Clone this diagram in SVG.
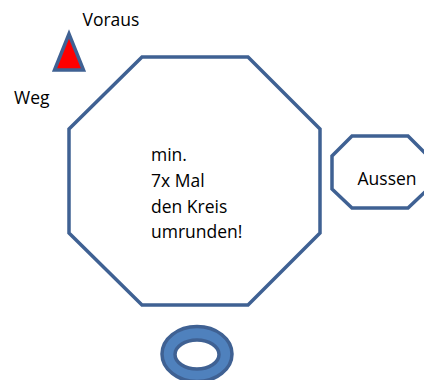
<svg xmlns="http://www.w3.org/2000/svg" width="424" height="380" viewBox="0 0 424 380">
<style>
.shape{fill:#fff;stroke:#3F6193;stroke-width:3.5;stroke-linejoin:miter}
.t{font-family:"Open Sans","Liberation Sans",sans-serif;font-size:17.5px;fill:#000}
</style>
<rect width="424" height="380" fill="#fff"/>
<g id="voraus-label"><text class="t" x="82.5" y="26">Voraus</text></g>
<g id="weg-label"><text class="t" x="14" y="104">Weg</text></g>
<g id="arrow"><polygon points="69,34 54.5,70 83.5,70" style="fill:#FF0000;stroke:#3F6193;stroke-width:3.5;stroke-linejoin:miter"/></g>
<g id="kreis">
<polygon class="shape" points="142,57 248,57 320,129 320,233 248,305 142,305 69,233 69,129"/>
<text class="t" x="151" y="161">min.</text>
<text class="t" x="151" y="187">7x Mal</text>
<text class="t" x="151" y="212.5">den Kreis</text>
<text class="t" x="151" y="238">umrunden!</text>
</g>
<g id="aussen">
<polygon class="shape" points="352,136 408,136 428,156 428,189 408,208 352,208 332,189 332,156"/>
<text class="t" x="357.5" y="185">Aussen</text>
</g>
<g id="ring"><path d="M162,354 a35,27.5 0 1,0 70,0 a35,27.5 0 1,0 -70,0 Z M175,354.5 a22,14.5 0 1,0 44,0 a22,14.5 0 1,0 -44,0 Z" fill="#4F81BD" fill-rule="evenodd" stroke="#3F6193" stroke-width="3.5"/></g>
<g id="connectors"/>
</svg>
